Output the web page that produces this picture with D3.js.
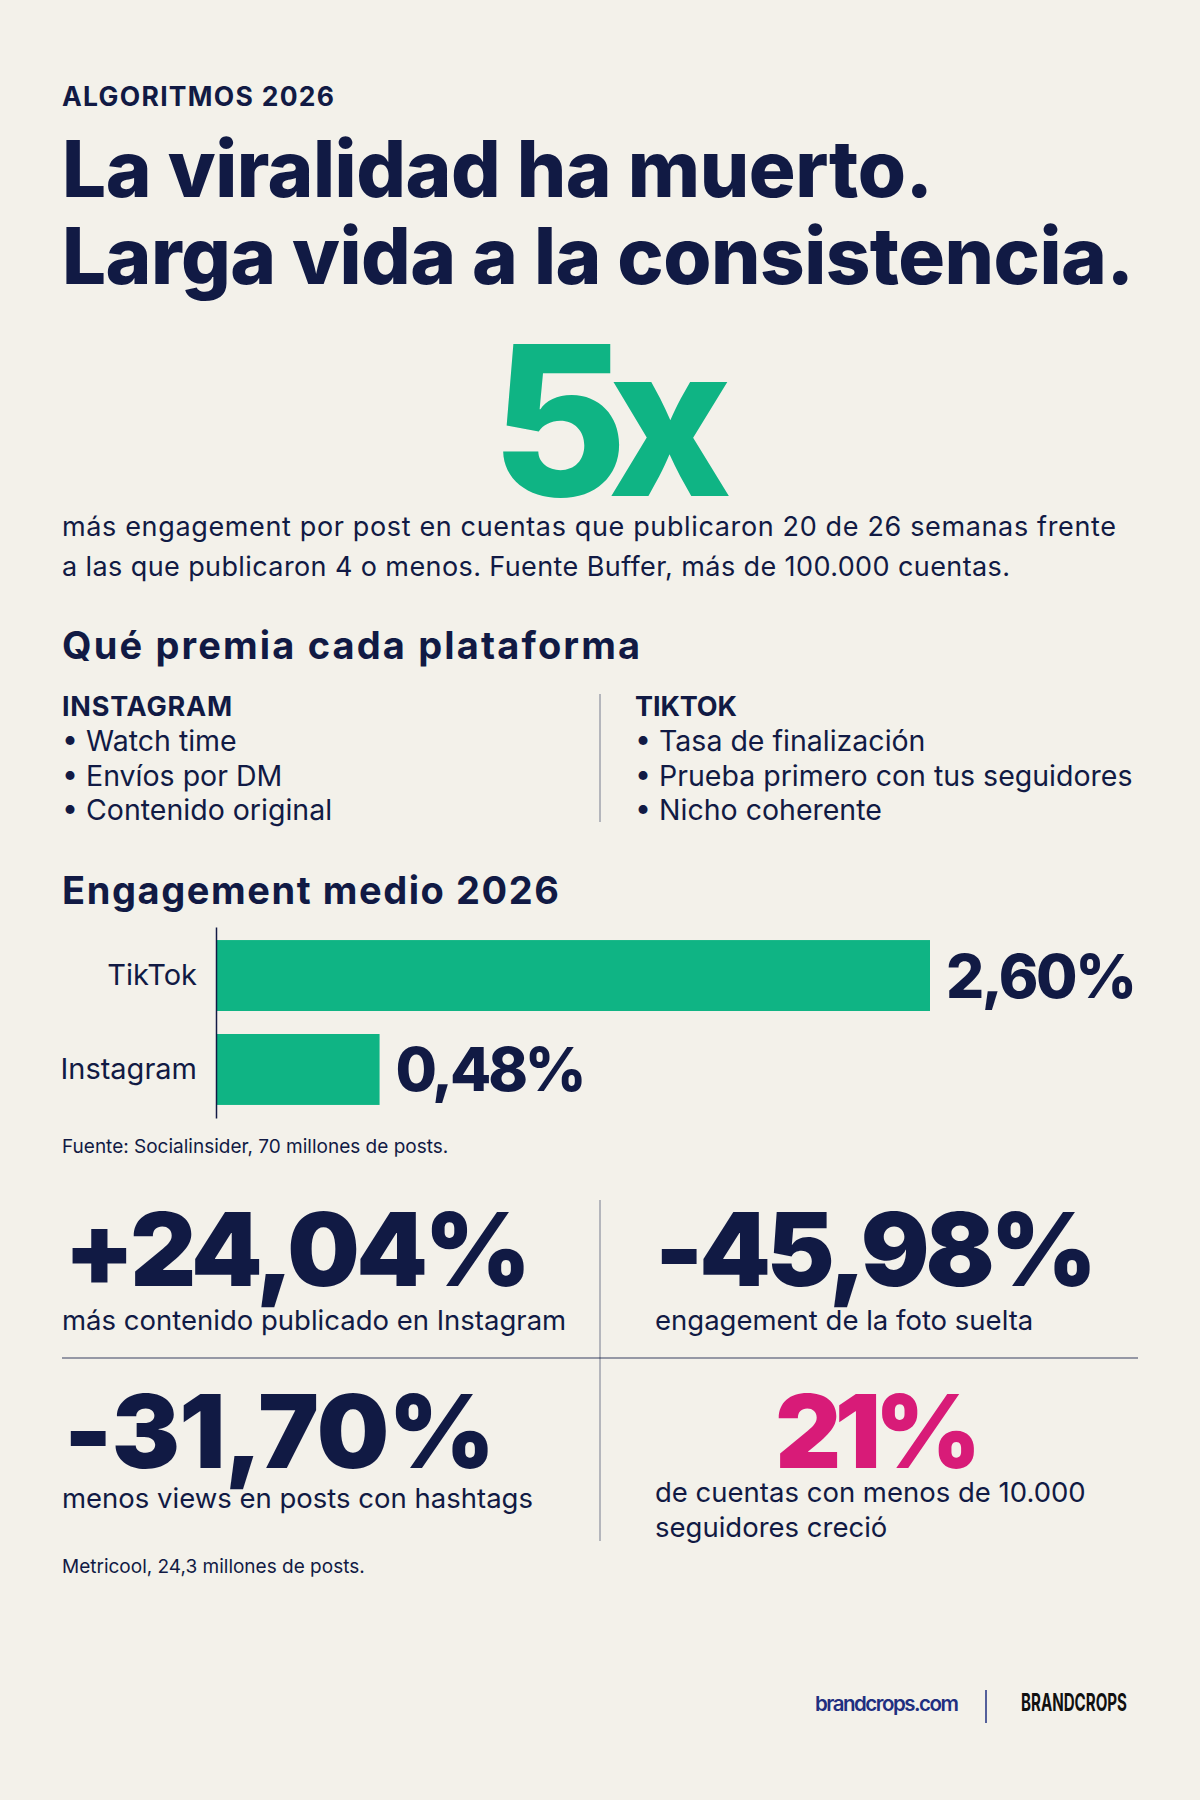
<!DOCTYPE html>
<html lang="es">
<head>
<meta charset="utf-8">
<script src="https://cdn.jsdelivr.net/npm/d3@7"></script>
<style>
  html, body { margin: 0; padding: 0; background: #f3f1ea; }
  svg { display: block; }
  text { font-family: Inter, "Noto Sans", sans-serif; }
</style>
</head>
<body>
<svg id="chart" width="1200" height="1800"></svg>
<script>
// ---------- DATA ----------
const kicker = "ALGORITMOS 2026";
const titleLines = ["La viralidad ha muerto.", "Larga vida a la consistencia."];
const heroValue = 5;
const heroLines = [
  "más engagement por post en cuentas que publicaron 20 de 26 semanas frente",
  "a las que publicaron 4 o menos. Fuente Buffer, más de 100.000 cuentas."
];
const rewardsTitle = "Qué premia cada plataforma";
const platformHeaders = ["INSTAGRAM", "TIKTOK"];
const instagramFactors = ["Watch time", "Envíos por DM", "Contenido original"];
const tiktokFactors = ["Tasa de finalización", "Prueba primero con tus seguidores", "Nicho coherente"];

const chartTitle = "Engagement medio 2026";
const platforms = ["TikTok", "Instagram"];
const engagement = [2.60, 0.48];
const chartSource = "Fuente: Socialinsider, 70 millones de posts.";

const statValues = [24.04, -45.98, -31.70, 21];
const statLabels = [
  ["más contenido publicado en Instagram"],
  ["engagement de la foto suelta"],
  ["menos views en posts con hashtags"],
  ["de cuentas con menos de 10.000", "seguidores creció"]
];
const statsSource = "Metricool, 24,3 millones de posts.";
const footerUrl = "brandcrops.com";
const footerBrand = "BRANDCROPS";

// ---------- STYLE ----------
const NAVY = "#111a44";
const GREEN = "#0fb484";
const PINK = "#d81b78";
const BG = "#f3f1ea";

const es = d3.formatLocale({decimal: ",", thousands: ".", grouping: [3], currency: ["", "€"]});
const fmt2 = es.format(".2f");

const svg = d3.select("#chart");
svg.append("rect").attr("width", 1200).attr("height", 1800).attr("fill", BG);

// fit text to target width via letter-spacing (keeps cap height)
function fit(sel, target) {
  const node = sel.node();
  const w = node.getComputedTextLength();
  const n = sel.text().length;
  if (n > 1) sel.attr("letter-spacing", ((target - w) / (n - 1)).toFixed(2));
  return sel;
}
function txt(x, y, s, size, weight, color, anchor) {
  return svg.append("text").attr("x", x).attr("y", y).text(s)
    .attr("font-size", size).attr("font-weight", weight)
    .attr("fill", color || NAVY).attr("text-anchor", anchor || "start");
}

// ---------- HEADER ----------
fit(txt(62, 106, kicker, 26.5, 700), 272);
fit(txt(62, 197, titleLines[0], 78, 800), 871);
fit(txt(62, 284, titleLines[1], 78, 800), 1072);

// hero
fit(txt(602, 496, heroValue + "x", 209, 800, GREEN, "middle"), 241);
fit(txt(62, 536, heroLines[0], 27, 400), 1054);
fit(txt(62, 576, heroLines[1], 27, 400), 948);

// ---------- REWARDS ----------
fit(txt(62, 659, rewardsTitle, 38, 700), 578);
const colX = [62, 635];
[instagramFactors, tiktokFactors].forEach((list, i) => {
  const h = txt(colX[i], 716, platformHeaders[i], 27, 700);
  fit(h, i === 0 ? 170 : 102);
  svg.selectAll(null).data(list).enter().append("text")
    .attr("x", colX[i]).attr("y", (d, j) => 751 + j * 34.5)
    .attr("font-size", 28.5).attr("font-weight", 400).attr("fill", NAVY)
    .text(d => "• " + d);
});
svg.append("line").attr("x1", 600).attr("x2", 600).attr("y1", 694).attr("y2", 822)
  .attr("stroke", NAVY).attr("stroke-opacity", 0.55).attr("stroke-width", 1);

// ---------- BAR CHART ----------
fit(txt(62, 904, chartTitle, 38, 700), 497);
const x = d3.scaleLinear().domain([-0.15, 2.6]).range([216, 930]);
const y = d3.scaleBand().domain(platforms).range([927, 1118]).paddingInner(0.245).paddingOuter(0.139);
const barData = platforms.map((p, i) => ({p, v: engagement[i]}));
svg.selectAll(".bar").data(barData).enter().append("rect").attr("class", "bar")
  .attr("x", x(-0.15)).attr("y", d => y(d.p))
  .attr("width", d => x(d.v) - x(-0.15)).attr("height", y.bandwidth())
  .attr("fill", GREEN);
const yAxis = d3.axisLeft(y).tickSize(0).tickPadding(19);
const gy = svg.append("g").attr("transform", `translate(${x(-0.15)},0)`).call(yAxis);
gy.select(".domain").attr("stroke", NAVY).attr("stroke-width", 1.5);
gy.selectAll("text").attr("font-size", 29).attr("font-family", "Inter, sans-serif")
  .attr("fill", NAVY).attr("font-weight", 400);
svg.selectAll(".val").data(barData).enter().append("text").attr("class", "val")
  .attr("x", d => x(d.v) + 16).attr("y", d => y(d.p) + y.bandwidth() / 2 + 22)
  .attr("font-size", 60).attr("font-weight", 800).attr("fill", NAVY)
  .text(d => fmt2(d.v) + "%")
  .each(function() { fit(d3.select(this), 191); });
txt(62, 1153, chartSource, 19, 400);

// ---------- STATS GRID ----------
svg.append("line").attr("x1", 600).attr("x2", 600).attr("y1", 1200).attr("y2", 1541)
  .attr("stroke", NAVY).attr("stroke-opacity", 0.55).attr("stroke-width", 1);
svg.append("line").attr("x1", 62).attr("x2", 1138).attr("y1", 1358).attr("y2", 1358)
  .attr("stroke", NAVY).attr("stroke-opacity", 0.55).attr("stroke-width", 1.5);

const cells = [
  {x: 64, y: 1286, ly: 1330, w: 467, anchor: "start"},
  {x: 655, y: 1286, ly: 1330, w: 442, anchor: "start"},
  {x: 64, y: 1468, ly: 1508, w: 431, anchor: "start"},
  {x: 875, y: 1468, ly: 1502, w: 206, anchor: "middle"}
];
statValues.forEach((v, i) => {
  const c = cells[i];
  let s;
  if (i === 3) s = es.format("d")(v) + "%";
  else s = (v > 0 ? "+" : "") + fmt2(v).replace("−", "-") + "%";
  const t = txt(c.x, c.y, s, 102, 900, i === 3 ? PINK : NAVY, c.anchor);
  fit(t, c.w);
  statLabels[i].forEach((l, j) => {
    txt(i % 2 === 0 ? 62 : 655, c.ly + j * 35, l, 27.5, 400);
  });
});
txt(62, 1573, statsSource, 19, 400);

// ---------- FOOTER ----------
fit(txt(815, 1711, footerUrl, 20.5, 600, "#1f2f80"), 144);
svg.append("line").attr("x1", 986).attr("x2", 986).attr("y1", 1690).attr("y2", 1723)
  .attr("stroke", "#1f2f80").attr("stroke-width", 1.5);
txt(1021, 1711, footerBrand, 24, 700, "#111111")
  .attr("font-family", "'DejaVu Sans Condensed', 'Liberation Sans Narrow', sans-serif")
  .attr("textLength", 106).attr("lengthAdjust", "spacingAndGlyphs");
</script>
</body>
</html>
